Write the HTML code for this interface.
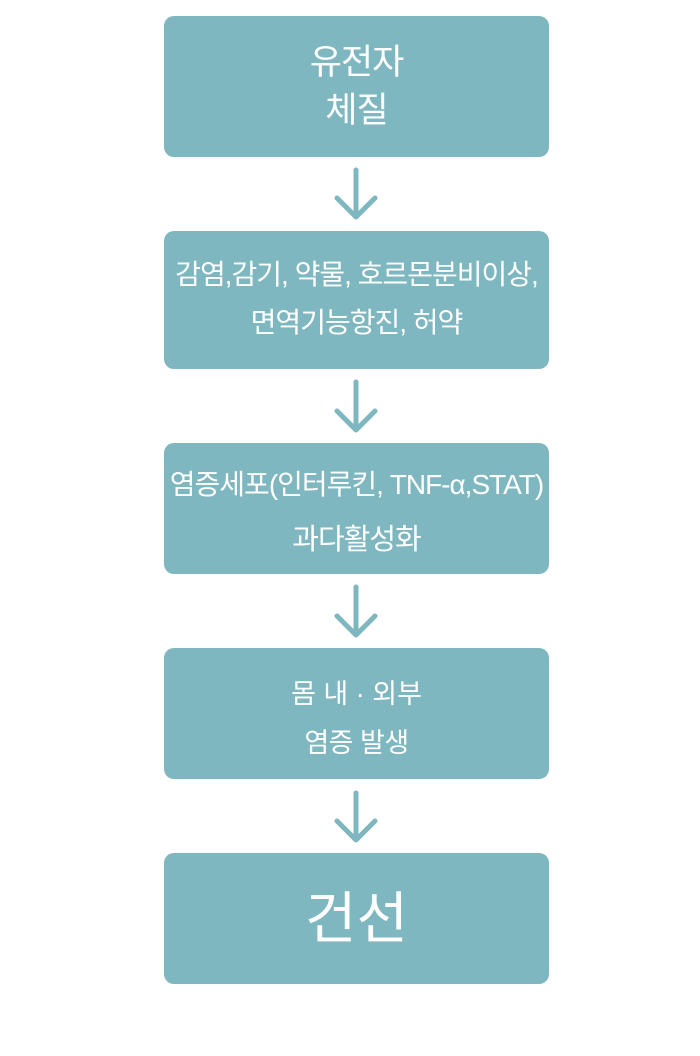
<!DOCTYPE html>
<html>
<head>
<meta charset="utf-8">
<style>
  html,body{margin:0;padding:0;background:#fff;}
  body{width:700px;height:1056px;position:relative;overflow:hidden;
       font-family:"Liberation Sans","Noto Sans CJK KR",sans-serif;color:#fff;}
  .box{position:absolute;left:164px;width:385px;background:#7eb7bf;border-radius:10px;}
  .t{position:absolute;left:164px;width:385px;text-align:center;white-space:nowrap;}
  svg{position:absolute;left:0;top:0;}
</style>
</head>
<body>
<div class="box" style="top:16px;height:141px;"></div>
<div class="box" style="top:231px;height:138px;"></div>
<div class="box" style="top:443px;height:131px;"></div>
<div class="box" style="top:648px;height:131px;"></div>
<div class="box" style="top:853px;height:131px;"></div>

<div class="t" style="top:43px;height:40px;line-height:40px;font-size:35px;letter-spacing:-1px;">유전자</div>
<div class="t" style="top:91px;height:40px;line-height:40px;font-size:35px;letter-spacing:-1px;">체질</div>

<div class="t" style="top:257px;height:36px;line-height:36px;font-size:28px;letter-spacing:-1px;">감염,감기, 약물, 호르몬분비이상,</div>
<div class="t" style="top:305px;height:36px;line-height:36px;font-size:28px;letter-spacing:-1px;">면역기능항진, 허약</div>

<div class="t" style="top:467px;height:36px;line-height:36px;font-size:28px;letter-spacing:-1px;">염증세포(인터루킨, TNF-α,STAT)</div>
<div class="t" style="top:522px;height:36px;line-height:36px;font-size:29px;letter-spacing:-1px;">과다활성화</div>

<div class="t" style="top:676px;height:36px;line-height:36px;font-size:27px;">몸 내 · 외부</div>
<div class="t" style="top:725px;height:36px;line-height:36px;font-size:27px;letter-spacing:-0.5px;">염증 발생</div>

<div class="t" style="top:888px;height:62px;line-height:62px;font-size:56px;">건선</div>

<svg width="700" height="1056" viewBox="0 0 700 1056">
  <g fill="none" stroke="#7eb7bf" stroke-width="5" stroke-linecap="round" stroke-linejoin="round">
    <path d="M356 170 L356 217 M337 198 L356 217 L375 198"/>
    <path d="M356 382 L356 430 M337 411 L356 430 L375 411"/>
    <path d="M356 587 L356 635 M337 616 L356 635 L375 616"/>
    <path d="M356 793 L356 840 M337 821 L356 840 L375 821"/>
  </g>
</svg>
</body>
</html>
